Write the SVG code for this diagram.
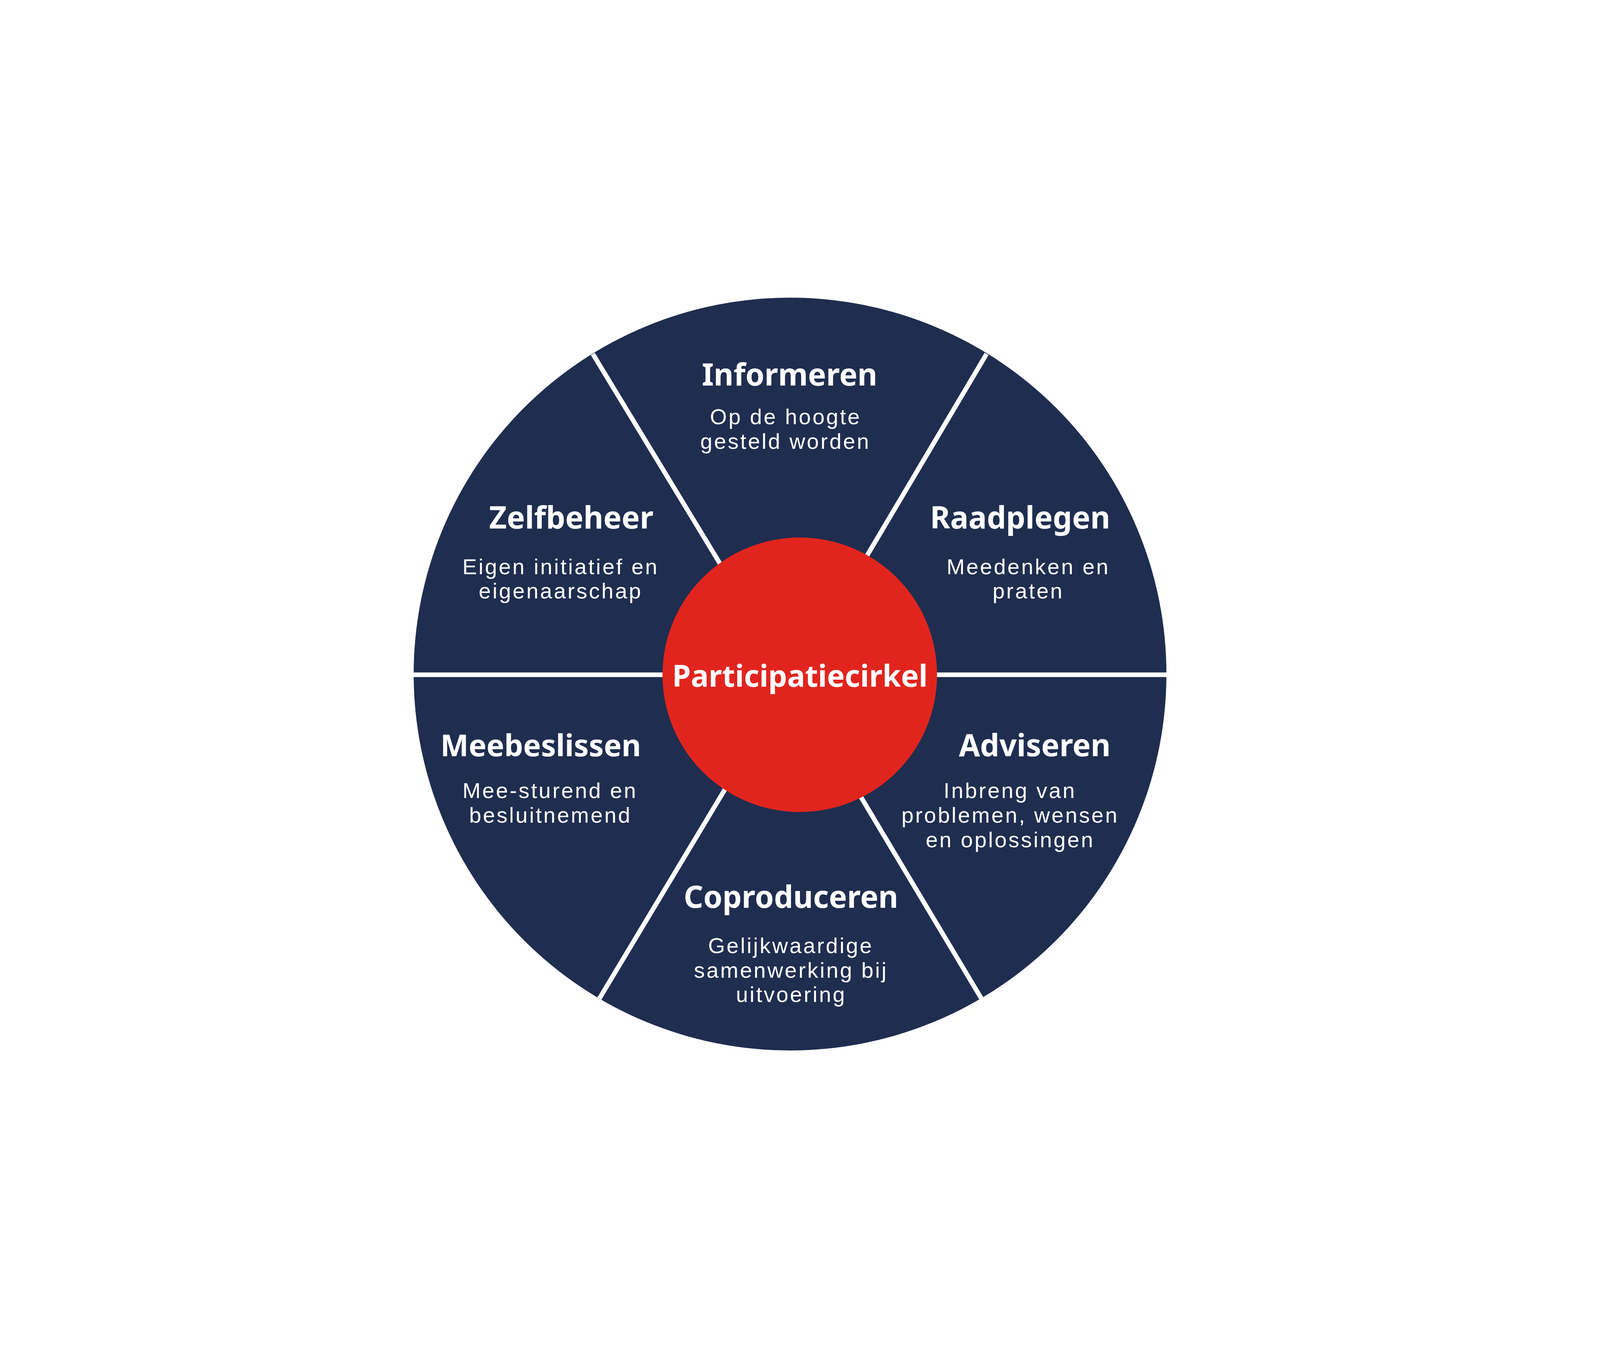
<svg xmlns="http://www.w3.org/2000/svg" width="6912" height="3456" viewBox="0 0 6912 3456">
<style>
svg{width:100vw;height:100vh}
.title{font-family:"Noto Sans","Liberation Sans",sans-serif;font-weight:700;font-size:132px;fill:#ffffff;text-anchor:middle}
.sub{font-family:"Liberation Sans","Noto Sans",sans-serif;font-weight:400;font-size:94px;fill:#ffffff;text-anchor:middle;letter-spacing:7px}
.div{stroke:#ffffff;stroke-width:20;fill:none}
</style>
<rect width="6912" height="3456" fill="#ffffff"/>
<g id="wheel">
<circle cx="3413" cy="1724" r="1626" fill="#1f2d4f"/>
</g>
<g id="connectors">
<line class="div" x1="1780" y1="1727" x2="5045" y2="1727"/>
<line class="div" x1="2561" y1="341" x2="3264" y2="1500"/>
<line class="div" x1="4262" y1="341" x2="3575" y2="1500"/>
<line class="div" x1="2588" y1="3128" x2="3295" y2="1950"/>
<line class="div" x1="4241" y1="3128" x2="3537" y2="1950"/>
</g>
<g id="informeren">
<text class="title" x="3411" y="477">Informeren</text>
<text class="sub" y="645"><tspan x="3394">Op de hoogte</tspan><tspan x="3393" dy="106">gesteld worden</tspan></text>
</g>
<g id="zelfbeheer">
<text class="title" x="2468" y="1095">Zelfbeheer</text>
<text class="sub" y="1292"><tspan x="2422">Eigen initiatief en</tspan><tspan x="2422" dy="106">eigenaarschap</tspan></text>
</g>
<g id="raadplegen">
<text class="title" x="4407" y="1095">Raadplegen</text>
<text class="sub" y="1292"><tspan x="4442">Meedenken en</tspan><tspan x="4442" dy="106">praten</tspan></text>
</g>
<g id="meebeslissen">
<text class="title" x="2336" y="2079" style="font-size:129px">Meebeslissen</text>
<text class="sub" y="2260"><tspan x="2376">Mee-sturend en</tspan><tspan x="2378" dy="106">besluitnemend</tspan></text>
</g>
<g id="adviseren">
<text class="title" x="4470" y="2079">Adviseren</text>
<text class="sub" y="2260"><tspan x="4363">Inbreng van</tspan><tspan x="4364" dy="106">problemen, wensen</tspan><tspan x="4364" dy="106">en oplossingen</tspan></text>
</g>
<g id="coproduceren">
<text class="title" x="3417" y="2733">Coproduceren</text>
<text class="sub" y="2929"><tspan x="3416">Gelijkwaardige</tspan><tspan x="3417" dy="106">samenwerking bij</tspan><tspan x="3418" dy="106">uitvoering</tspan></text>
</g>
<g id="participatiecirkel">
<circle cx="3455" cy="1727" r="593" fill="#e1251e"/>
<text class="title" x="3456" y="1778" style="font-size:129px">Participatiecirkel</text>
</g>
</svg>
